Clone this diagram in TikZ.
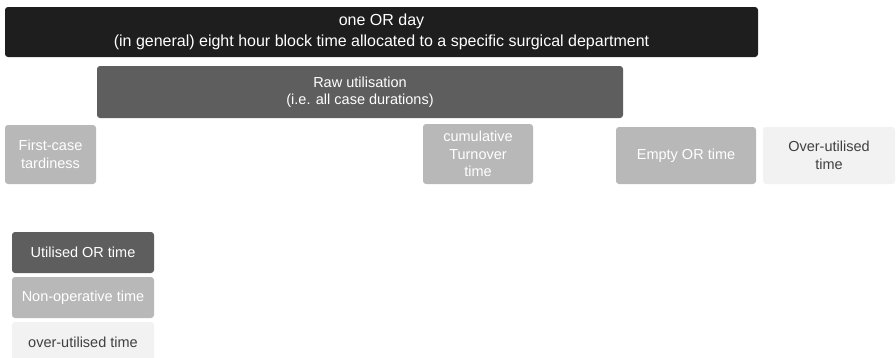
\documentclass[tikz,border=0pt]{standalone}
\usepackage{fontspec}
\setmainfont{Liberation Sans}
\definecolor{dayblack}{HTML}{1E1E1E}
\definecolor{rawgrey}{HTML}{5E5E5E}
\definecolor{nonopgrey}{HTML}{B8B8B9}
\definecolor{overgrey}{HTML}{F2F2F2}
\definecolor{overtext}{HTML}{404040}
\begin{document}
\begin{tikzpicture}[x=1pt, y=-1pt,
    block/.style={rounded corners=3pt, inner sep=0pt, align=center, font=\fontsize{14.5}{17.5}\selectfont},
    dayblock/.style={block, fill=dayblack, text=white, font=\fontsize{16}{21}\selectfont},
    rawblock/.style={block, fill=rawgrey, text=white},
    nonopblock/.style={block, fill=nonopgrey, text=white},
    overblock/.style={block, fill=overgrey, text=overtext}]
    \useasboundingbox (0,0) rectangle (896,357);

    % Whole day and raw utilisation
    \node[dayblock, minimum width=753pt, minimum height=50pt] (day) at (381.5,32) {one OR day\\(in general) eight hour block time allocated to a specific surgical department};
    \node[rawblock, minimum width=526pt, minimum height=52pt] (raw) at (360,92) {Raw utilisation\\(i.e. all case durations)};

    % Non-operative parts
    \node[nonopblock, minimum width=91pt, minimum height=59pt] (tardy) at (50.5,154.5) {First-case\\tardiness};
    \node[nonopblock, minimum width=110pt, minimum height=60pt] (turnover) at (478,154) {cumulative\\Turnover\\time};
    \node[nonopblock, minimum width=140pt, minimum height=57pt] (empty) at (686,155.5) {Empty OR time};
    \node[overblock, minimum width=132pt, minimum height=57pt] (over) at (829,155.5) {Over-utilised\\time};

    % Legend
    \node[rawblock, minimum width=142pt, minimum height=41pt] (keyused) at (83,252.5) {Utilised OR time};
    \node[nonopblock, minimum width=142pt, minimum height=41pt] (keynonop) at (83,297.5) {Non-operative time};
    \node[overblock, minimum width=142pt, minimum height=41pt] (keyover) at (83,342.5) {over-utilised time};
\end{tikzpicture}
\end{document}
